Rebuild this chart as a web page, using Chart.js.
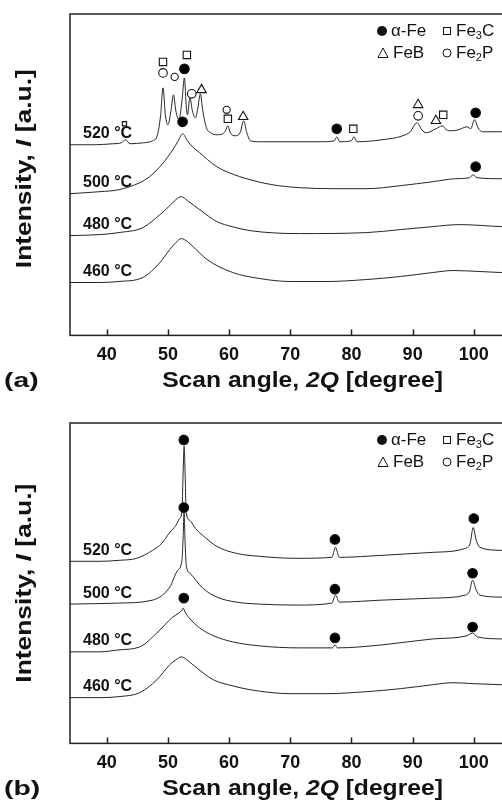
<!DOCTYPE html>
<html>
<head>
<meta charset="utf-8">
<script src="https://cdn.jsdelivr.net/npm/chart.js@4.4.0/dist/chart.umd.min.js"></script>
<style>
  html, body { margin: 0; padding: 0; background: #fff; overflow: hidden; width: 502px; height: 803px; }
  .wrap { position: absolute; left: 0; }
</style>
</head>
<body>
<div class="wrap" style="top:0"><canvas id="chartA" width="560" height="400"></canvas></div>
<div class="wrap" style="top:400px"><canvas id="chartB" width="560" height="403"></canvas></div>
<script>
// tick labels and curve names
const xTicks = [40, 50, 60, 70, 80, 90, 100]
const tempLabels = ['520 °C', '500 °C', '480 °C', '460 °C']

// (a) XRD traces, [2theta, intensity a.u.] (curves are offset)
const a520 = [[34,191],[38,191],[41,192],[42.4,193],[43.1,196],[43.8,192],[46,193],[47.5,195],[48.3,201],[48.8,220],[49.2,248],[49.6,220],[50.0,211],[50.5,225],[50.9,241],[51.3,225],[51.8,216],[52.3,235],[52.7,258],[53.0,230],[53.2,221],[53.6,238],[54.0,225],[54.5,218],[54.9,228],[55.3,242],[55.7,225],[56.3,208],[57,203],[58,201],[59,202],[59.4,205],[59.8,210],[60.2,203],[61,200],[61.8,203],[62.4,215],[62.9,203],[63.5,195],[65,194],[70,194],[75,194],[77.2,195],[77.6,199],[78.1,194],[80,195],[80.4,199],[80.9,194],[85,196],[88.4,200],[89.6,204],[90.7,213],[91.5,206],[92.2,203],[93.8,207],[94.9,210],[95.5,206],[96.3,205],[97.5,206],[98.9,209],[99.5,207],[100.1,216],[100.7,208],[101.4,204],[104,204],[107,204],[110,204]]
const a500 = [[34,142],[38.9,144],[42,146],[45.4,153],[47,159],[48.7,169],[50,179],[50.8,186],[51.7,195],[52.4,202],[53.2,195],[54,189],[55.2,183],[56.5,176],[58,169],[60,163],[63.4,156],[67,151],[71.5,148],[77,147],[82.5,147],[88,150],[93.3,154],[97,157],[99.3,158],[99.9,161],[100.5,158],[104.4,157],[110,156]]
const a480 = [[34,100],[38.9,101],[42,103],[45.9,108],[48.7,121],[50.3,130],[51.3,136],[52.2,139],[53.2,135],[55.2,126],[58,114],[60.5,109],[63.4,105],[71.5,102],[82.5,103],[88,106],[93.3,109],[97.7,111],[104.4,109],[110,108]]
const a460 = [[34,53],[38.9,53],[42,54],[45.9,58],[48.7,73],[50.3,86],[51.3,93],[52.2,97],[53.2,94],[54.1,89],[56.4,76],[60.6,63],[65,57],[70,54],[76,54],[82.5,56],[88,59],[93.3,63],[96.6,65],[101,64],[104.4,63],[110,62]]

// (a) phase markers
const alphaA = [[52.7,267],[52.4,214],[77.6,207],[100.3,223],[100.3,169]]
const fe3cA = [[49.2,274],[53.1,281],[59.8,217],[80.3,207],[95.0,221],[42.9,212]]
const febA = [[55.5,246],[62.3,219],[90.9,231],[93.8,215]]
const fe2pA = [[49.2,263],[51.1,259],[53.9,242],[59.6,226],[90.9,220]]

// (b) XRD traces
const b520 = [[34,183],[38.9,183],[42,184],[44.9,186],[47.5,194],[49,201],[50.3,212],[51.3,219],[51.9,226],[52.3,234],[52.5,274],[52.65,299],[52.8,274],[53.0,232],[53.6,224],[54.5,216],[55.7,209],[58,198],[61.2,191],[65,188],[71.1,186],[76.8,187],[77.4,197],[78,187],[85,189],[93.3,192],[98.6,196],[99.4,201],[99.9,217],[100.4,204],[101,197],[104.4,194],[110,193]]
const b500 = [[34,140],[42,141],[47.5,144],[50.3,157],[51.6,174],[52.3,184],[52.5,209],[52.65,232],[52.8,204],[53.0,179],[53.6,171],[55.7,156],[58,147],[61.2,142],[65,140],[71.1,139],[76.8,141],[77.4,149],[78,142],[85,144],[93.3,146],[98.6,149],[99.3,153],[99.8,164],[100.4,154],[101,149],[104.4,147],[110,146]]
const b480 = [[34,92],[38.9,92],[42,94],[45.4,97],[48.2,111],[50.8,127],[51.8,131],[52.3,134],[52.5,136],[52.8,132],[53.5,126],[55.2,116],[57.5,108],[60.6,102],[65,98],[71.5,96],[76.9,96],[77.3,99],[77.7,96],[85,99],[93.3,105],[98.8,108],[99.8,111],[100.6,107],[104.4,105],[110,104]]
const b460 = [[34,46],[38.9,46],[42,47],[45.4,51],[48.2,64],[50.3,79],[51.3,84],[52.2,87],[53.1,84],[54.1,79],[57.4,64],[60.5,58],[63.4,54],[70,50],[76,50],[82.5,52],[88,55],[93.3,59],[96.6,61],[100,60],[104.4,59],[110,58]]

// (b) phase markers
const alphaB = [[52.6,305],[52.6,237],[52.6,146],[77.3,205],[100,226],[77.3,155],[99.8,171],[77.3,106],[99.8,117]]

const FONT = '"Liberation Sans", Arial, Helvetica, sans-serif'
const pts = arr => arr.map(p => ({ x: p[0], y: p[1] }))

// bold text with italic pieces, centred, stretched sideways like the scan
function drawRich(ctx, parts, x, y, size, sx) {
  const fontOf = p => (p[1] ? 'italic ' : '') + 'bold ' + size + 'px ' + FONT
  let w = 0
  parts.forEach(p => { ctx.font = fontOf(p); w += ctx.measureText(p[0]).width })
  ctx.save()
  ctx.translate(x, y)
  ctx.scale(sx, 1)
  let cx = -w / 2
  parts.forEach(p => {
    ctx.font = fontOf(p)
    ctx.fillText(p[0], cx, 0)
    cx += ctx.measureText(p[0]).width
  })
  ctx.restore()
}
function subText(ctx, x, y, main, sub, tail) {
  ctx.font = '17px ' + FONT
  ctx.fillText(main, x, y)
  x += ctx.measureText(main).width
  if (sub) {
    ctx.font = '11px ' + FONT
    ctx.fillText(sub, x, y + 5)
    x += ctx.measureText(sub).width
    ctx.font = '17px ' + FONT
    ctx.fillText(tail, x, y)
  }
}

const decor = {
  id: 'decor',
  afterDraw(chart) {
    const { ctx, chartArea: ca, scales } = chart
    const cfg = chart.options.plugins.decor
    ctx.save()
    // frame
    ctx.strokeStyle = '#222'
    ctx.lineWidth = 1.5
    ctx.strokeRect(ca.left, ca.top, ca.right - ca.left, ca.bottom - ca.top)
    // inward ticks
    xTicks.forEach(v => {
      const px = Math.round(scales.x.getPixelForValue(v)) + 0.5
      ctx.beginPath()
      ctx.moveTo(px, ca.bottom)
      ctx.lineTo(px, ca.bottom - 6)
      ctx.stroke()
    })
    ctx.fillStyle = '#111'
    // curve names
    ctx.font = 'bold 16px ' + FONT
    ctx.textBaseline = 'middle'
    ctx.textAlign = 'left'
    cfg.curves.forEach((c, i) => {
      ctx.fillText(tempLabels[i], ca.left + 13, scales.y.getPixelForValue(c[0][1]) - 11)
    })
    // axis titles
    drawRich(ctx, [['Scan angle, ', false], ['2Q', true], [' [degree]', false]], (ca.left + ca.right) / 2, ca.bottom + 46, 22, 1.12)
    ctx.save()
    ctx.translate(25, (ca.top + ca.bottom) / 2 + cfg.yShift)
    ctx.rotate(-Math.PI / 2)
    drawRich(ctx, [['Intensity, ', false], ['I', true], [' [a.u.]', false]], 0, 0, 22, 1.2)
    ctx.restore()
    ctx.save()
    ctx.translate(4, ca.bottom + 46)
    ctx.scale(1.35, 1)
    ctx.font = 'bold 21px ' + FONT
    ctx.fillText(cfg.letter, 0, 0)
    ctx.restore()
    // legend
    const lx = ca.left, r1 = ca.top + 17, r2 = ca.top + 39
    ctx.lineWidth = 1
    ctx.strokeStyle = '#111'
    ctx.beginPath(); ctx.arc(lx + 312, r1, 5, 0, Math.PI * 2); ctx.fill()
    ctx.strokeRect(lx + 373.5, r1 - 3.5, 7, 7)
    ctx.beginPath()
    ctx.moveTo(lx + 313, r2 - 5); ctx.lineTo(lx + 318, r2 + 4.5); ctx.lineTo(lx + 308, r2 + 4.5); ctx.closePath(); ctx.stroke()
    ctx.beginPath(); ctx.arc(lx + 377, r2, 4, 0, Math.PI * 2); ctx.stroke()
    subText(ctx, lx + 321, r1, 'α-Fe')
    subText(ctx, lx + 386, r1, 'Fe', '3', 'C')
    subText(ctx, lx + 323, r2, 'FeB')
    subText(ctx, lx + 386, r2, 'Fe', '2', 'P')
    ctx.restore()
  }
}

function lineSet(arr) {
  return {
    type: 'line', data: pts(arr), borderColor: '#262626', borderWidth: 1,
    pointRadius: 0, cubicInterpolationMode: 'monotone', fill: false
  }
}
function markSet(arr, style, filled, radius) {
  return {
    type: 'scatter', data: pts(arr), pointStyle: style, pointRadius: radius,
    pointBackgroundColor: filled ? '#000' : '#fff', pointBorderColor: '#111',
    pointBorderWidth: 1.1, showLine: false
  }
}

function makeChart(id, curves, markers, pad, letter, yShift) {
  const datasets = markers.concat(curves.map(lineSet))
  return new Chart(document.getElementById(id), {
    type: 'line',
    data: { datasets },
    plugins: [decor],
    options: {
      responsive: false,
      animation: false,
      layout: { padding: pad },
      plugins: {
        legend: { display: false },
        tooltip: { enabled: false },
        decor: { curves, letter, yShift }
      },
      scales: {
        x: {
          type: 'linear', min: 34, max: 110,
          afterBuildTicks: s => { s.ticks = xTicks.map(v => ({ value: v })) },
          grid: { display: false, drawTicks: false },
          border: { display: false },
          ticks: { padding: 9, color: '#111', font: { family: FONT, size: 18, weight: 'bold' } }
        },
        y: { type: 'linear', min: 0, max: 322, display: false }
      }
    }
  })
}

makeChart('chartA', [a520, a500, a480, a460], [
  markSet(alphaA, 'circle', true, 4.8),
  markSet(fe3cA, 'rect', false, [5.2, 5.2, 5.2, 5.2, 5.2, 3]),
  markSet(febA, 'triangle', false, 5.5),
  markSet(fe2pA, 'circle', false, [4.3, 3.6, 4.3, 3.6, 4.3])
], { left: 70, top: 14, right: 25, bottom: 25 }, '(a)', -6)

makeChart('chartB', [b520, b500, b480, b460], [
  markSet(alphaB, 'circle', true, 4.8)
], { left: 70, top: 23, right: 25, bottom: 20 }, '(b)', 0)
</script>
</body>
</html>
